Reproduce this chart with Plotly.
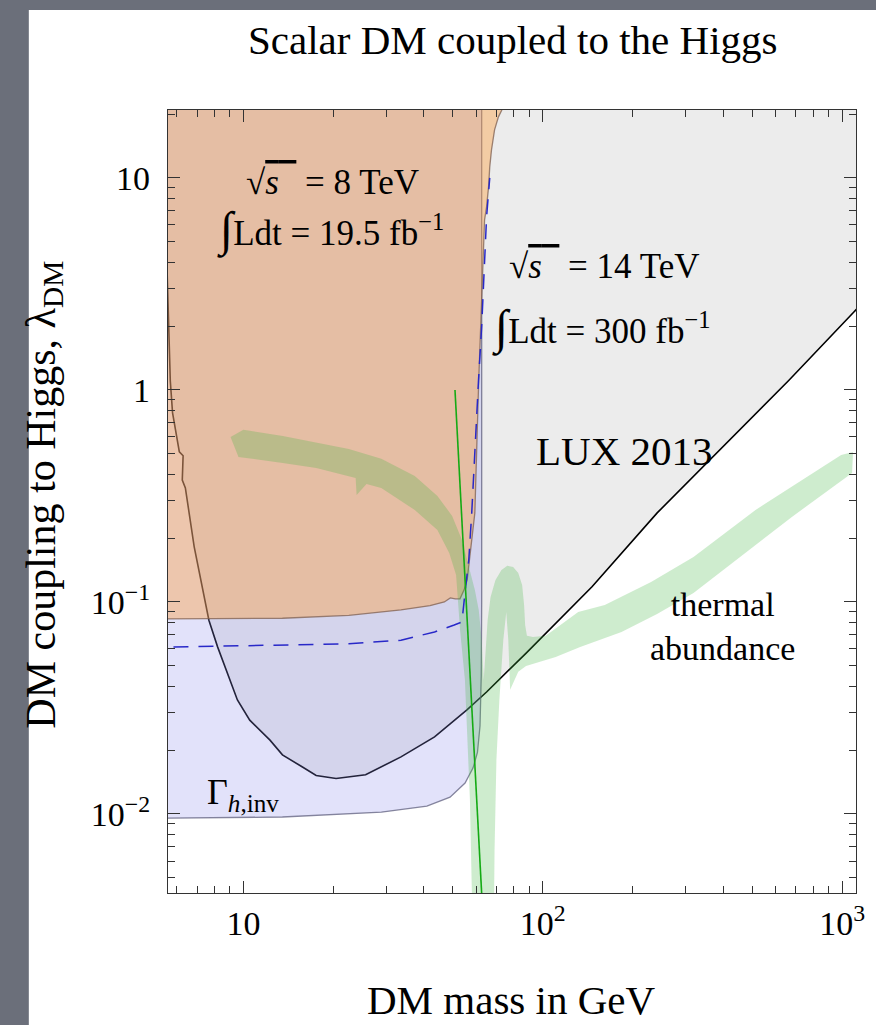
import math
import plotly.graph_objects as go

# ---------------- data (DM mass in GeV, coupling lambda_DM) ----------------
# LUX 2013 direct-detection limit (region above is excluded)
lux_mass = [5.55, 5.63, 5.70, 5.80, 6.11, 6.29, 6.25, 6.40, 6.85, 7.67, 8.2, 9.55, 10.5,
            12.27, 13.5, 15.7, 17.5, 20.4, 25.6, 33.6, 43.5, 55.8, 64.9, 88, 146, 241,
            400, 664, 1094, 1200]
lux_lambda = [4.0, 2.0, 1.1, 0.78, 0.51, 0.489, 0.376, 0.345, 0.182, 0.082, 0.0614, 0.0345,
              0.0277, 0.0223, 0.0190, 0.0167, 0.0152, 0.0147, 0.0153, 0.0186, 0.0231, 0.031,
              0.0376, 0.0574, 0.118, 0.263, 0.538, 1.11, 2.33, 2.68]

# Invisible Higgs width bound (region above is excluded)
inv_mass = [5.5, 13.5, 28.9, 41, 49, 55, 58.5, 60.5, 61.7, 62.3, 62.5, 62.5, 5.5]
inv_lambda = [0.00955, 0.00968, 0.0102, 0.0109, 0.0120, 0.0140, 0.0165, 0.0195, 0.026,
              0.045, 0.1, 100, 100]

# 8 TeV, 19.5 fb^-1 limit (region above / left is excluded)
lhc8_mass = [5.5, 13.5, 22.5, 33.6, 42, 46.9, 49.1, 51, 52.9, 54.6, 55.9, 57.5, 59.3, 61.1,
             62.5, 63.5, 63.9, 64.9, 65.9, 66.5, 67.4, 69.0, 71.1, 74.4, 76.7, 80, 5.5]
lhc8_lambda = [0.0832, 0.0838, 0.0865, 0.0917, 0.096, 0.100, 0.1045, 0.1035, 0.1035, 0.114,
               0.127, 0.18, 0.263, 1.11, 2.66, 4.58, 6.34, 7.3, 9.07, 11.27, 13.55, 16.84,
               19.4, 22.1, 23.8, 100, 100]

# 14 TeV, 300 fb^-1 projection
lhc14_mass = [5.84, 13.5, 22.5, 33.6, 43.5, 50.6, 53.7, 54.95, 56.6, 57.9, 59.3, 61.0, 62.5,
              63.5, 64.9, 66.5]
lhc14_lambda = [0.0613, 0.0625, 0.0635, 0.066, 0.0722, 0.0779, 0.0805, 0.110, 0.158, 0.263,
                0.538, 1.11, 2.0, 3.41, 6.55, 10.0]

# thin green line
green_mass = [50.9, 63.3]
green_lambda = [1.0, 0.003]

# thermal abundance band (outline)
relic_mass = [9.06, 10.0, 13.54, 22.49, 28.88, 37.36, 44.46, 49.8, 53.7, 56.6, 59.3, 61.1,
              62.5, 63.5, 64.4, 65.44, 66.94, 69.5, 72.8, 76.1, 79.6, 82.8, 85.3, 86.6, 87.3,
              88.5, 92.7, 102.3, 131.3, 161.1, 230, 318.7, 513.5, 679, 992, 1087, 1079, 679,
              513.5, 318.7, 240.8, 183.2, 133.3, 110.4, 87.9, 82.8, 77.8, 76.7, 75.5, 73.8,
              71.6, 70.0, 69.0, 68.45, 57.96, 57.96, 57.1, 55.8, 54.95, 52.94, 52.1, 51.34,
              48.7, 44.46, 37.36, 28.88, 25.77, 23.89, 23.71, 17.52, 13.54, 11.37, 9.63]
relic_lambda = [0.600, 0.648, 0.607, 0.527, 0.473, 0.393, 0.316, 0.2545, 0.196, 0.149, 0.114,
                0.0917, 0.0662, 0.0429, 0.0594, 0.0822, 0.1056, 0.127, 0.1415, 0.148, 0.1463,
                0.137, 0.1203, 0.0968, 0.0779, 0.0692, 0.0684, 0.0692, 0.0897, 0.0968, 0.1243,
                0.163, 0.2716, 0.3486, 0.4936, 0.510, 0.406, 0.2517, 0.1857, 0.1103, 0.0878,
                0.0722, 0.0613, 0.055, 0.0499, 0.0468, 0.0385, 0.0662, 0.0897, 0.0662, 0.0345,
                0.018, 0.00676, 0.00205, 0.00205, 0.00424, 0.01164, 0.0278, 0.0429, 0.0738,
                0.1022, 0.1341, 0.1703, 0.2187, 0.2716, 0.3449, 0.360, 0.3197, 0.3845, 0.4285,
                0.4524, 0.4677, 0.483]

# axis ticks
x_major = [10, 100, 1000]
x_major_text = ["10", "10<sup>2</sup>", "10<sup>3</sup>"]
x_minor = [6, 7, 8, 9, 20, 30, 40, 50, 60, 70, 80, 90, 200, 300, 400, 500, 600, 700, 800, 900]
y_major = [0.01, 0.1, 1, 10]
y_major_text = ["10<sup>\u22122</sup>", "10<sup>\u22121</sup>", "1", "10"]
y_minor = [0.005, 0.006, 0.007, 0.008, 0.009, 0.02, 0.03, 0.04, 0.05, 0.06, 0.07, 0.08, 0.09,
           0.2, 0.3, 0.4, 0.5, 0.6, 0.7, 0.8, 0.9, 2, 3, 4, 5, 6, 7, 8, 9, 20]

x_range = [5.6, 1112]
y_range = [0.00424, 20.9]

SERIF = "Liberation Serif"

fig = go.Figure()

# LUX excluded region
fig.add_trace(go.Scatter(
    x=lux_mass + [1200, lux_mass[0]], y=lux_lambda + [100, 100],
    fill="toself", fillcolor="#ececec", line=dict(width=0), mode="lines",
    hoverinfo="skip", showlegend=False))
fig.add_trace(go.Scatter(
    x=lux_mass, y=lux_lambda, mode="lines", line=dict(color="black", width=1.6),
    hoverinfo="skip", showlegend=False))

# invisible width region
fig.add_trace(go.Scatter(
    x=inv_mass, y=inv_lambda, fill="toself", fillcolor="rgba(139,139,235,0.25)",
    line=dict(color="rgba(95,95,125,0.75)", width=1.3), mode="lines",
    hoverinfo="skip", showlegend=False))

# 8 TeV region
fig.add_trace(go.Scatter(
    x=lhc8_mass, y=lhc8_lambda, fill="toself", fillcolor="rgba(255,158,58,0.4)",
    line=dict(color="rgba(125,95,80,0.75)", width=1.3), mode="lines",
    hoverinfo="skip", showlegend=False))

# thermal abundance band
fig.add_trace(go.Scatter(
    x=relic_mass, y=relic_lambda, fill="toself", fillcolor="rgba(60,180,60,0.25)",
    line=dict(width=0), mode="lines", hoverinfo="skip", showlegend=False))

# 14 TeV projection
fig.add_trace(go.Scatter(
    x=lhc14_mass, y=lhc14_lambda, mode="lines",
    line=dict(color="rgb(40,40,200)", width=1.5, dash="15px,10px"),
    hoverinfo="skip", showlegend=False))

# thin green line
fig.add_trace(go.Scatter(
    x=green_mass, y=green_lambda, mode="lines",
    line=dict(color="rgb(20,170,20)", width=1.6), hoverinfo="skip", showlegend=False))

W, H = 876, 1025
L, R, T, B = 168, 11, 110, 132
PW, PH = W - L - R, H - T - B


def px(xp, yp):
    """pixel position -> paper coordinates"""
    return (xp - L) / PW, (H - B - yp) / PH


def label(text, xp, yp, size, **kw):
    xx, yy = px(xp, yp)
    fig.add_annotation(text=text, x=xx, y=yy, xref="paper", yref="paper",
                       xanchor="center", yanchor="middle", showarrow=False,
                       font=dict(family=SERIF, size=size, color="black"), **kw)


INT = '<span style="font-size:48px">\u222b</span>'
ROOT_S = '\u221a<span style="text-decoration:overline"><i>s</i>\u2002</span>'
label("Scalar DM coupled to the Higgs", 517, 40, 41)
label(ROOT_S + " = 8 TeV", 335, 182, 35)
label(INT + "Ldt = 19.5 fb<sup>\u22121</sup>", 333, 230, 35)
label(ROOT_S + " = 14 TeV", 610, 266, 35)
label(INT + "Ldt = 300 fb<sup>\u22121</sup>", 607, 328, 35)
label("LUX 2013", 630, 451, 41)
label("thermal<br>abundance", 730, 626, 34)
label("\u0393<sub><i>h</i>,inv</sub>", 244, 794, 36)
label("DM mass in GeV", 516, 1000, 41)
label("DM coupling to Higgs, \u03bb<sub>DM</sub>", 42, 495, 42, textangle=-90)

# page background and white panel
x0, y1 = px(27, 10)
x1, y0 = px(900, 1060)
fig.add_shape(type="rect", xref="paper", yref="paper", x0=x0, x1=x1, y0=y0, y1=y1,
              fillcolor="white", line=dict(width=0), layer="below")

axis_common = dict(
    showgrid=False, zeroline=False, showline=True, linecolor="#333", linewidth=1.3,
    mirror="ticks", ticks="inside", ticklen=12, tickwidth=1, tickcolor="#333",
    tickfont=dict(family=SERIF, size=34, color="black"),
)

fig.update_xaxes(type="log", range=[math.log10(v) for v in x_range],
                 tickmode="array", tickvals=x_major, ticktext=x_major_text,
                 minor=dict(ticks="inside", ticklen=7, tickwidth=1, tickcolor="#333",
                            tickmode="array", tickvals=x_minor),
                 ticklabelstandoff=0, **axis_common)
fig.update_yaxes(type="log", range=[math.log10(v) for v in y_range],
                 tickmode="array", tickvals=y_major, ticktext=y_major_text,
                 minor=dict(ticks="inside", ticklen=7, tickwidth=1, tickcolor="#333",
                            tickmode="array", tickvals=y_minor),
                 ticklabelstandoff=10, **axis_common)

fig.update_layout(
    width=W, height=H, margin=dict(l=L, r=R, t=T, b=B),
    paper_bgcolor="#6b6f7a", plot_bgcolor="white",
    showlegend=False, hovermode=False,
)

fig.write_html("out.html")
